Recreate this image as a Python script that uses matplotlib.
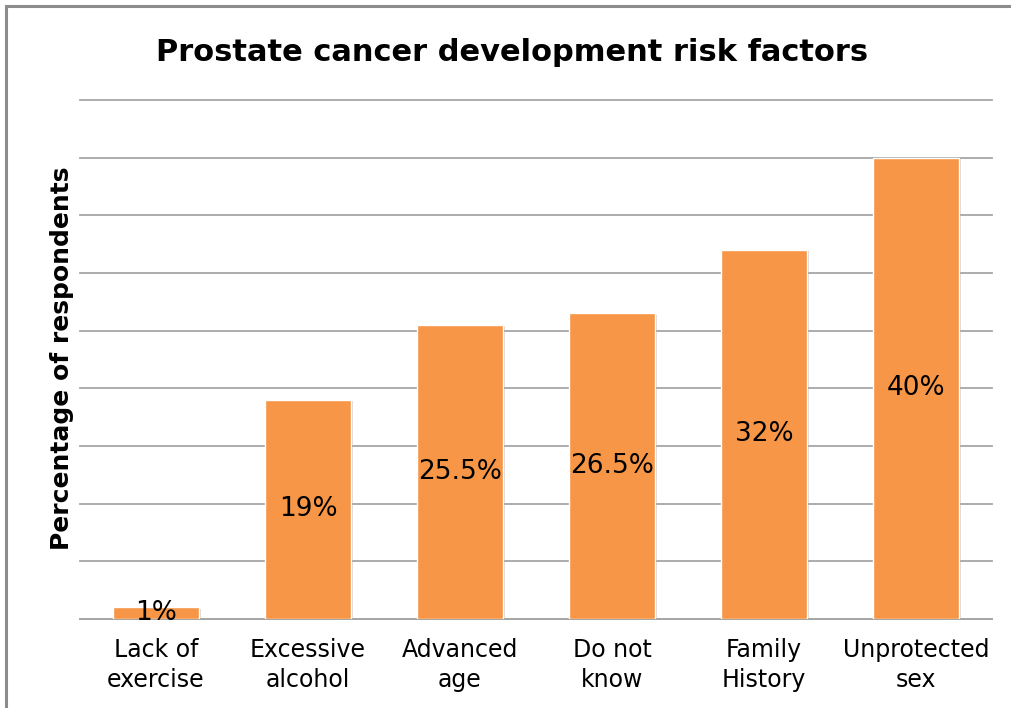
import matplotlib
matplotlib.use("Agg")
import matplotlib.pyplot as plt
import matplotlib.patheffects as pe
from matplotlib.patches import Rectangle

categories = ["Lack of\nexercise", "Excessive\nalcohol", "Advanced\nage",
              "Do not\nknow", "Family\nHistory", "Unprotected\nsex"]
values = [1, 19, 25.5, 26.5, 32, 40]
value_labels = ["1%", "19%", "25.5%", "26.5%", "32%", "40%"]

title = "Prostate cancer development risk factors"
ylabel = "Percentage of respondents"

bar_color = "#F79646"
grid_color = "#A6A6A6"

plt.rcParams["font.family"] = ["DejaVu Sans"]

W, H = 1012, 708
fig = plt.figure(figsize=(W / 100, H / 100), dpi=100)
fig.patch.set_facecolor("white")

ax = fig.add_axes([80 / W, 1 - 619 / H, (992 - 80) / W, (619 - 100) / H])
x = list(range(len(categories)))
bars = ax.bar(x, values, width=0.56, color=bar_color, edgecolor="white",
              linewidth=1.0, zorder=3)
for b in bars:
    b.set_path_effects([pe.SimplePatchShadow(offset=(1.5, -1), shadow_rgbFace="#888888", alpha=0.35),
                        pe.Normal()])

for xi, v, lab in zip(x, values, value_labels):
    ax.text(xi, v / 2, lab, ha="center", va="center", fontsize=19,
            color="black", zorder=4)

ax.set_xlim(-0.5, len(categories) - 0.5)
ax.set_ylim(0, 45)
ax.set_yticks(range(0, 46, 5))
ax.set_yticklabels([])
ax.yaxis.grid(True, color=grid_color, linewidth=1.3, zorder=0)
for gl in ax.yaxis.get_gridlines():
    gl.set_clip_on(False)
ax.tick_params(axis="y", length=0)
ax.set_xticks(x)
ax.set_xticklabels(categories, fontsize=17, linespacing=1.3)
ax.tick_params(axis="x", length=0, pad=14)
for s in ["left", "right", "top"]:
    ax.spines[s].set_visible(False)
ax.spines["bottom"].set_color(grid_color)
ax.spines["bottom"].set_linewidth(1.3)
ax.set_axisbelow(True)

fig.text(512 / W, 1 - 61 / H, title, ha="center", va="baseline",
         fontsize=22, fontweight="bold")
fig.text(62 / W, 1 - 358 / H, ylabel, ha="center", va="center",
         rotation=90, fontsize=18, fontweight="bold")

# outer frame
fig.add_artist(Rectangle((6 / W, -0.1), 1.2, 1 - 6 / H + 0.1, transform=fig.transFigure,
                         fill=False, edgecolor="#8C8C8C", linewidth=2.2))

fig.savefig("out.png", dpi=100)
